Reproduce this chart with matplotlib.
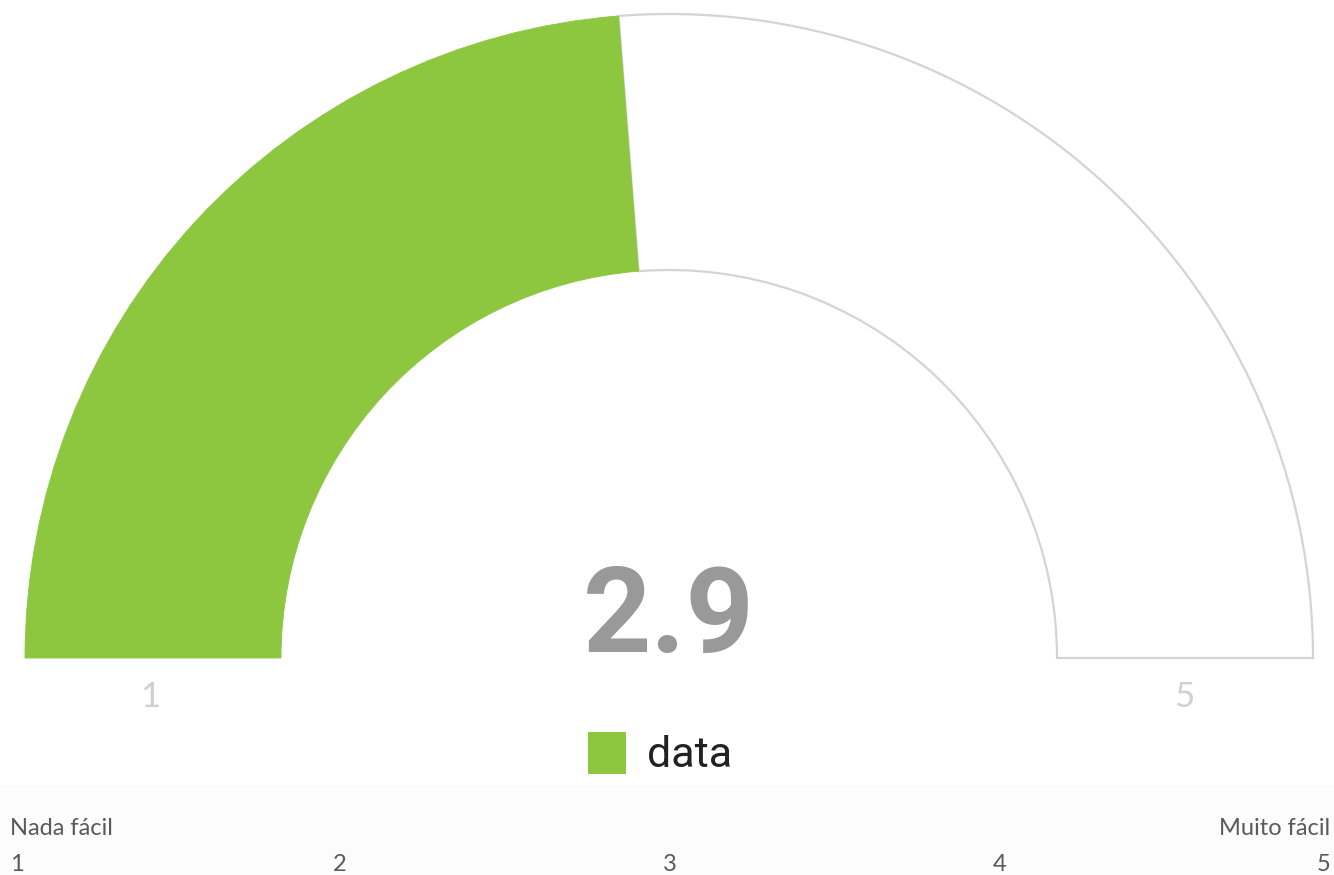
import matplotlib
matplotlib.use("Agg")
import matplotlib.pyplot as plt
from matplotlib.patches import Wedge, Rectangle, Patch

# data
value = 2.9
scale_min = 1
scale_max = 5
series_name = "data"
scale_labels = ["Nada fácil", "Muito fácil"]
scale_ticks = ["1", "2", "3", "4", "5"]

GREEN = "#8dc63f"
W, H = 1334, 875
fig = plt.figure(figsize=(W / 100, H / 100), dpi=100)
ax = fig.add_axes([0, 0, 1, 1])
ax.set_xlim(0, W)
ax.set_ylim(H, 0)
ax.axis("off")

cx, cy = 669, 658
r_out, r_in = 644, 388

def ang(v):
    frac = (v - scale_min) / (scale_max - scale_min)
    return 180 + frac * 180  # inverted y: 180 (left) -> 360 (right) over the top

bg = Wedge((cx, cy), r_out, ang(value), 360, width=r_out - r_in,
           facecolor="white", edgecolor="#d4d4d4", lw=1.6, zorder=1)
ax.add_patch(bg)
fg = Wedge((cx, cy), r_out, 180, ang(value), width=r_out - r_in,
           facecolor=GREEN, edgecolor=GREEN, lw=0.6, zorder=2)
ax.add_patch(fg)

# value text
ax.text(cx, 652, f"{value}", ha="center", va="baseline", fontsize=86,
        fontweight="bold", color="#999999", family="Roboto", zorder=3)

# min / max labels
ax.text((25 + 280) / 2 - 2, 707, str(scale_min), ha="center", va="baseline",
        fontsize=25, color="#d0d0d0", family="Lato")
ax.text((1056 + 1313) / 2, 707, str(scale_max), ha="center", va="baseline",
        fontsize=25, color="#d0d0d0", family="Lato")

# legend
leg = ax.legend(handles=[Patch(facecolor=GREEN, edgecolor="none", label=series_name)],
                loc="center", bbox_to_anchor=(660 / W, 1 - 754 / H),
                frameon=False, fontsize=31, handlelength=0.88, handleheight=1.15,
                handletextpad=0.5, borderpad=0)
for t in leg.get_texts():
    t.set_color("#222222")
    t.set_family("Roboto")

# bottom band
ax.add_patch(Rectangle((0, 785), W, H - 785, facecolor="#fcfcfc", edgecolor="none", zorder=0))
ax.text(10, 835, scale_labels[0], ha="left", va="baseline", fontsize=17,
        color="#5a5a5a", family="Lato")
ax.text(1330, 835, scale_labels[1], ha="right", va="baseline", fontsize=17,
        color="#5a5a5a", family="Lato")
n = len(scale_ticks)
for i, lab in enumerate(scale_ticks):
    x = 10 + i * (1320 / (n - 1))
    ha = "left" if i == 0 else ("right" if i == n - 1 else "center")
    ax.text(x, 871, lab, ha=ha, va="baseline", fontsize=17, color="#5a5a5a",
            family="Lato")

fig.savefig("out.png", dpi=100, facecolor="white")
